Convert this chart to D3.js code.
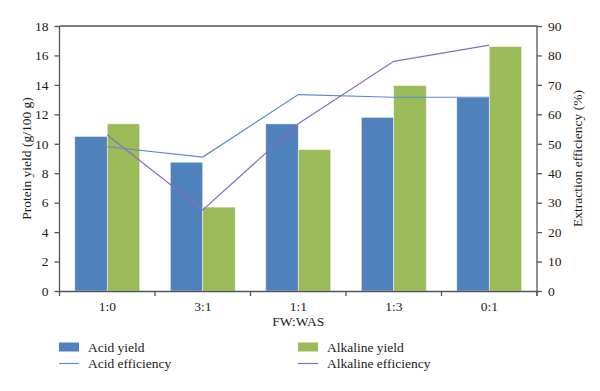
<!DOCTYPE html>
<html>
<head>
<meta charset="utf-8">
<script src="https://cdn.jsdelivr.net/npm/d3@7"></script>
<style>
  body { margin: 0; background: #fff; }
  svg text { font-family: "Liberation Serif", "DejaVu Serif", serif; fill: #1a1a1a; }
</style>
</head>
<body>
<div id="chart"></div>
<script>
// ---------- DATA ----------
const categories = ["1:0", "3:1", "1:1", "1:3", "0:1"];
const acidYield = [10.5, 8.75, 11.35, 11.8, 13.15];
const alkalineYield = [11.35, 5.7, 9.6, 13.95, 16.6];
const acidEfficiency = [49.0, 45.5, 66.7, 65.8, 65.8];
const alkalineEfficiency = [53.0, 27.5, 56.8, 78.0, 83.5];
const leftTicks = [0, 2, 4, 6, 8, 10, 12, 14, 16, 18];
const rightTicks = [0, 10, 20, 30, 40, 50, 60, 70, 80, 90];

// ---------- DRAW ----------
const W = 600, H = 391;
const margin = { left: 59.5, right: 63, top: 26, bottom: 100 };
const innerW = W - margin.left - margin.right;
const innerH = H - margin.top - margin.bottom;

const svg = d3.select("#chart").append("svg")
  .attr("width", W)
  .attr("height", H);

const g = svg.append("g")
  .attr("transform", `translate(${margin.left},${margin.top})`);

const x = d3.scaleBand().domain(categories).range([0, innerW]).paddingInner(0.32).paddingOuter(0.16);
const xSub = d3.scaleBand().domain(["acid", "alk"]).range([0, x.bandwidth()]);
const xCat = d3.scaleBand().domain(categories).range([0, innerW]);
const yL = d3.scaleLinear().domain([0, 18]).range([innerH, 0]);
const yR = d3.scaleLinear().domain([0, 90]).range([innerH, 0]);

const BLUE = "#4f81bd", GREEN = "#9bbb59";
const LINE_BLUE = "#5a8bd8", PURPLE = "#8b6cc0";
const AXIS = "#555";

// bars
const series = [
  { key: "acid", vals: acidYield, color: BLUE },
  { key: "alk", vals: alkalineYield, color: GREEN }
];
series.forEach(s => {
  g.selectAll(".bar-" + s.key)
    .data(categories)
    .enter()
    .append("rect")
    .attr("x", (d, i) => x(d) + xSub(s.key))
    .attr("y", (d, i) => yL(s.vals[i]))
    .attr("width", xSub.bandwidth())
    .attr("height", (d, i) => innerH - yL(s.vals[i]))
    .attr("fill", s.color)
    .attr("stroke", "#eef2f7")
    .attr("stroke-width", 0.6);
});

// efficiency lines (points at category centres)
const cx = d => xCat(d) + xCat.bandwidth() / 2;
[[acidEfficiency, LINE_BLUE], [alkalineEfficiency, PURPLE]].forEach(([vals, col]) => {
  g.append("path")
    .datum(categories)
    .attr("fill", "none")
    .attr("stroke", col)
    .attr("stroke-width", 1.2)
    .attr("d", d3.line().x(d => cx(d)).y((d, i) => yR(vals[i])));
});

// ---------- AXES ----------
const leftAxis = g.append("g")
  .call(d3.axisLeft(yL).tickValues(leftTicks).tickSize(5).tickPadding(6).tickFormat(d3.format("d")));
const rightAxis = g.append("g")
  .attr("transform", `translate(${innerW},0)`)
  .call(d3.axisRight(yR).tickValues(rightTicks).tickSize(5).tickPadding(6).tickFormat(d3.format("d")));
const bottomAxis = g.append("g")
  .attr("transform", `translate(0,${innerH})`)
  .call(d3.axisBottom(xCat).tickSize(0).tickPadding(10));

[leftAxis, rightAxis, bottomAxis].forEach(a => {
  a.select(".domain").attr("stroke", AXIS).attr("stroke-width", 1.3);
  a.selectAll(".tick line").attr("stroke", AXIS).attr("stroke-width", 1.3);
  a.selectAll("text").style("font-size", "13.5px").attr("fill", "#1a1a1a")
    .style("font-family", "'Liberation Serif', serif");
});
leftAxis.select(".domain").attr("d", `M0,0V${innerH}`);
rightAxis.select(".domain").attr("d", `M0,0V${innerH + 5}`);

// category boundary ticks
g.append("g").selectAll("line")
  .data(d3.range(categories.length + 1))
  .enter()
  .append("line")
  .attr("x1", i => i * xCat.step())
  .attr("x2", i => i * xCat.step())
  .attr("y1", innerH)
  .attr("y2", innerH + 5)
  .attr("stroke", AXIS)
  .attr("stroke-width", 1.3);

// top frame line
g.append("line")
  .attr("x1", 0).attr("x2", innerW)
  .attr("y1", 0).attr("y2", 0)
  .attr("stroke", AXIS).attr("stroke-width", 1.3);

// axis titles
svg.append("text")
  .attr("transform", `translate(31,${margin.top + innerH / 2}) rotate(-90)`)
  .attr("text-anchor", "middle")
  .style("font-size", "13.5px")
  .text("Protein yield (g/100 g)");

svg.append("text")
  .attr("transform", `translate(582,${margin.top + innerH / 2}) rotate(-90)`)
  .attr("text-anchor", "middle")
  .style("font-size", "13.5px")
  .text("Extraction efficiency (%)");

svg.append("text")
  .attr("x", margin.left + innerW / 2)
  .attr("y", 326)
  .attr("text-anchor", "middle")
  .style("font-size", "13.5px")
  .text("FW:WAS");

// ---------- LEGEND ----------
const legend = [
  { label: "Acid yield", type: "rect", color: BLUE, x: 59, y: 347 },
  { label: "Acid efficiency", type: "line", color: LINE_BLUE, x: 59, y: 363.5 },
  { label: "Alkaline yield", type: "rect", color: GREEN, x: 298, y: 347 },
  { label: "Alkaline efficiency", type: "line", color: PURPLE, x: 298, y: 363.5 }
];
const lg = svg.append("g").selectAll("g")
  .data(legend)
  .enter()
  .append("g")
  .attr("transform", d => `translate(${d.x},${d.y})`);

lg.filter(d => d.type === "rect").append("rect")
  .attr("x", 0).attr("y", -4.5)
  .attr("width", 20).attr("height", 9)
  .attr("fill", d => d.color);

lg.filter(d => d.type === "line").append("line")
  .attr("x1", 0).attr("x2", 20)
  .attr("y1", 0).attr("y2", 0)
  .attr("stroke", d => d.color)
  .attr("stroke-width", 1.2);

lg.append("text")
  .attr("x", 29)
  .attr("y", 0)
  .attr("dy", "0.35em")
  .style("font-size", "13.5px")
  .text(d => d.label);
</script>
</body>
</html>
